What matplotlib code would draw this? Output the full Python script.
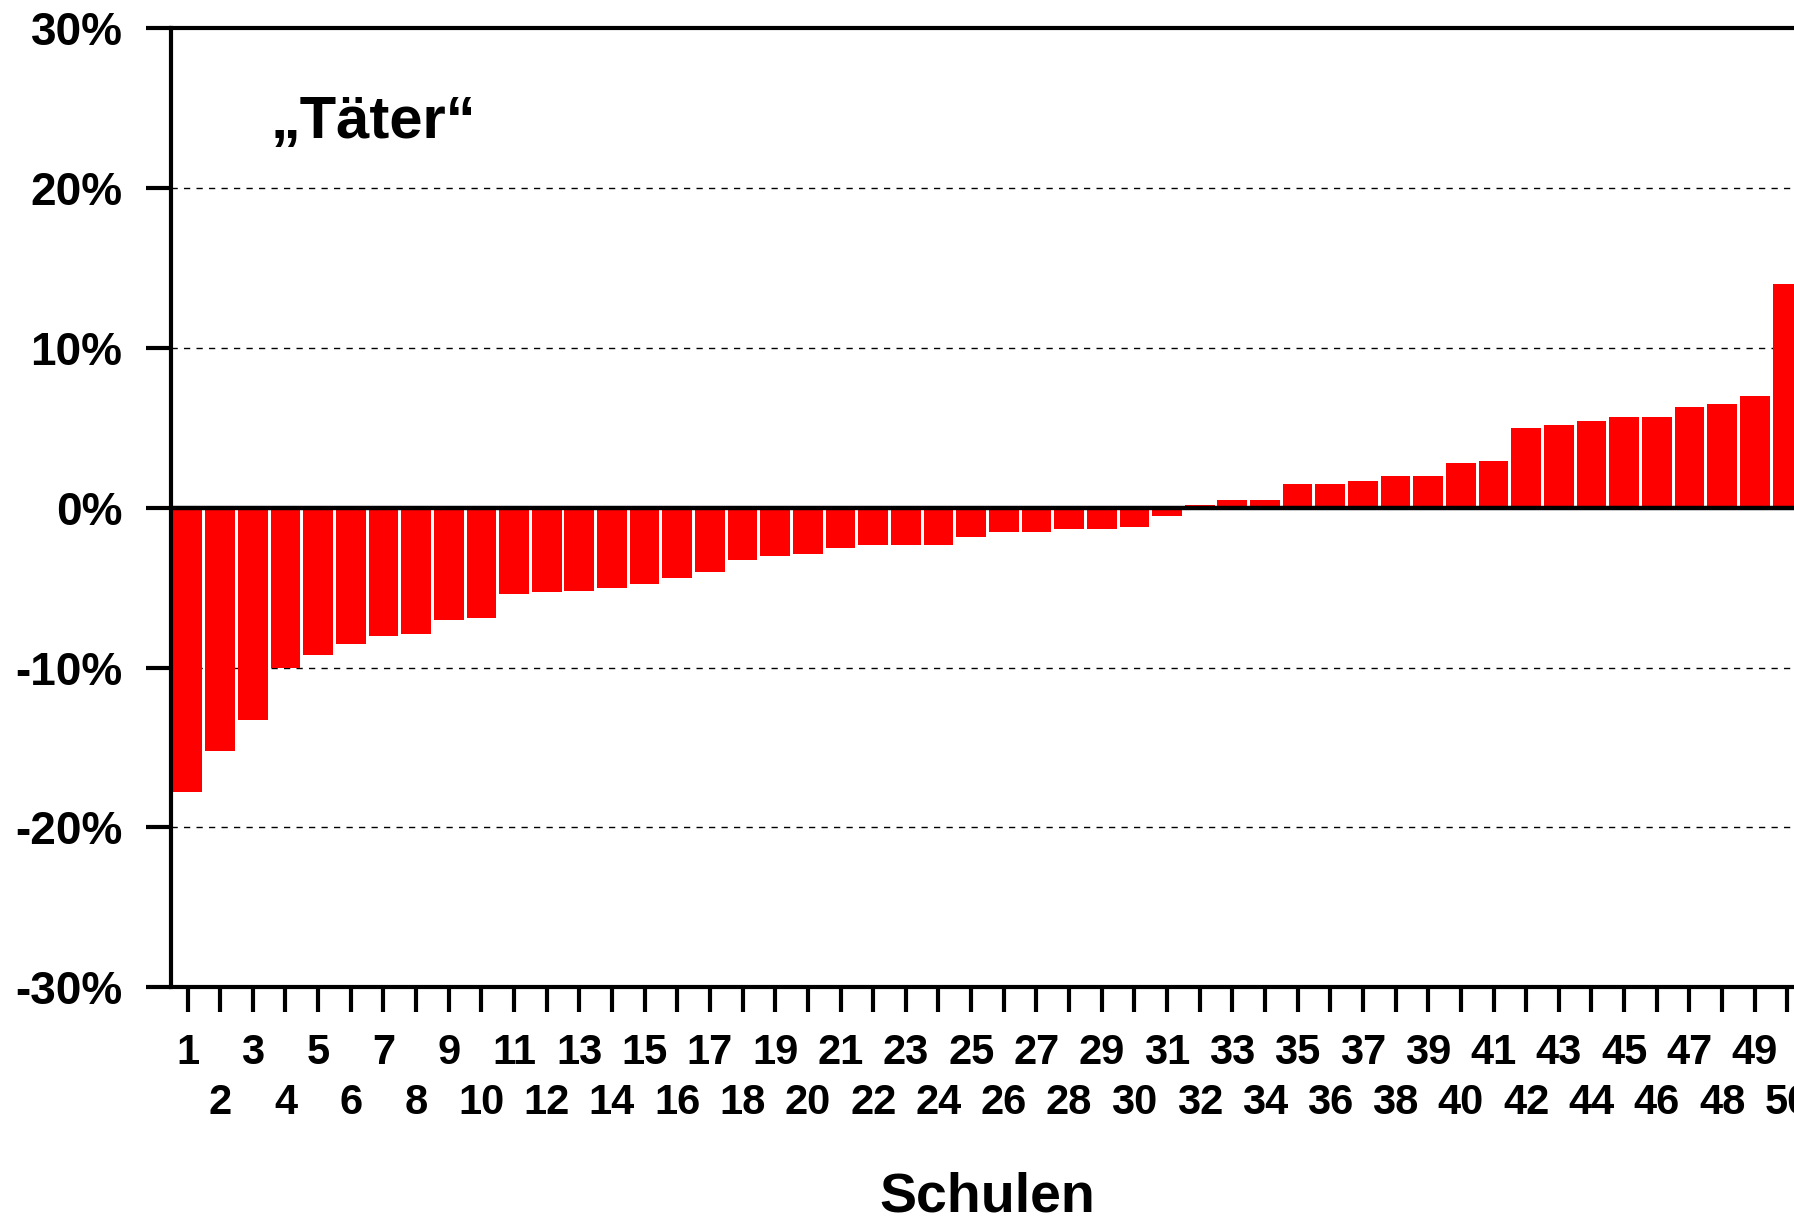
import matplotlib
matplotlib.use("Agg")
import matplotlib.pyplot as plt

schools = list(range(1, 51))
values = [-17.8, -15.2, -13.3, -10.0, -9.2, -8.5, -8.0, -7.9, -7.0, -6.9,
          -5.4, -5.3, -5.2, -5.0, -4.8, -4.4, -4.0, -3.3, -3.0, -2.9,
          -2.5, -2.3, -2.3, -2.3, -1.8, -1.5, -1.5, -1.3, -1.3, -1.2,
          -0.5, 0.2, 0.5, 0.5, 1.5, 1.5, 1.7, 2.0, 2.0, 2.8,
          2.9, 5.0, 5.2, 5.4, 5.7, 5.7, 6.3, 6.5, 7.0, 14.0]
yticks = [-30, -20, -10, 0, 10, 20, 30]
ytick_labels = [f"{v}%" for v in yticks]
title_text = "\u201eTäter\u201c"
xlabel_text = "Schulen"

plt.rcParams['font.family'] = ['Liberation Sans', 'DejaVu Sans']
plt.rcParams['font.weight'] = 'bold'

W, H = 1794, 1219
fig = plt.figure(figsize=(W / 100, H / 100), dpi=100)
left_px, right_px = 171.2, 1803.7
top_px, bot_px = 28.3, 987.2
ax = fig.add_axes([left_px / W, 1 - bot_px / H, (right_px - left_px) / W, (bot_px - top_px) / H])

ax.bar(schools, values, width=0.91, color='#ff0000', edgecolor='none', zorder=2)
ax.set_xlim(0.5, 50.5)
ax.set_ylim(-30, 30)

for g in [-20, -10, 10, 20]:
    ax.axhline(g, color='black', lw=1.0, ls=(0, (4.5, 4.5)), zorder=1)
ax.axhline(0, color='black', lw=3.2, zorder=3)

for s in ['left', 'bottom', 'top', 'right']:
    ax.spines[s].set_linewidth(3.0)
    ax.spines[s].set_zorder(4)

ax.set_yticks(yticks)
ax.set_yticklabels(ytick_labels, fontsize=33, fontweight='bold')
ax.tick_params(axis='y', direction='out', length=18, width=3.0, pad=17)

odd = [s for s in schools if s % 2 == 1]
even = [s for s in schools if s % 2 == 0]
ax.set_xticks(odd)
ax.set_xticklabels([str(s) for s in odd], fontsize=30, fontweight='bold')
ax.set_xticks(even, minor=True)
ax.set_xticklabels([str(s) for s in even], minor=True, fontsize=30, fontweight='bold')
ax.tick_params(axis='x', which='major', direction='out', length=18, width=3.0, pad=15)
ax.tick_params(axis='x', which='minor', direction='out', length=18, width=3.0, pad=51)

fig.text(271 / W, 1 - 138 / H, title_text, fontsize=43, fontweight='bold', ha='left', va='baseline')
fig.text(((left_px + right_px) / 2) / W, 1 - 1212 / H, xlabel_text, fontsize=40, fontweight='bold',
         ha='center', va='baseline')

fig.savefig('out.png', dpi=100)
